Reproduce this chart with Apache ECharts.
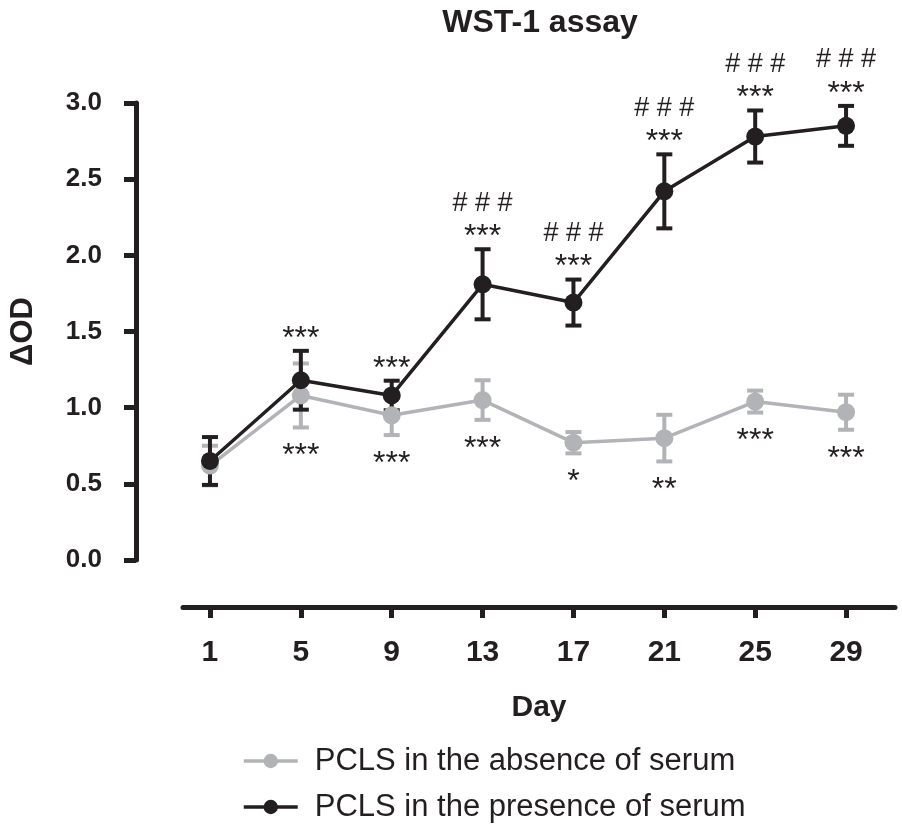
<!DOCTYPE html>
<html><head><meta charset="utf-8">
<script src="https://cdn.jsdelivr.net/npm/echarts@6/dist/echarts.min.js"></script>
<style>html,body{margin:0;padding:0;background:#fff}#c{width:902px;height:832px}</style>
</head><body><div id="c"></div>
<script>
// ---- data ----
const days = [1, 5, 9, 13, 17, 21, 25, 29];
const yTicks = [0, 0.5, 1.0, 1.5, 2.0, 2.5, 3.0];
const noSerumMean = [0.62, 1.08, 0.95, 1.05, 0.77, 0.80, 1.04, 0.97];
const noSerumSem  = [0.13, 0.21, 0.13, 0.13, 0.07, 0.153, 0.072, 0.115];
const withSerumMean = [0.65, 1.18, 1.08, 1.81, 1.69, 2.42, 2.78, 2.85];
const withSerumSem  = [0.157, 0.193, 0.097, 0.23, 0.151, 0.243, 0.171, 0.131];
const sigNoSerum   = ['', '***', '***', '***', '*', '**', '***', '***'];
const sigWithSerum = ['', '***', '***', '***', '***', '***', '***', '***'];
const hashWithSerum = ['', '', '', '###', '###', '###', '###', '###'];
const seriesNames = ['PCLS in the absence of serum', 'PCLS in the presence of serum'];

// ---- style ----
const FONT = "'Liberation Sans', Arial, Helvetica, sans-serif";
const INK = '#231f20';
const GRAY = '#b1b3b6';

function errorBar(color, means, sems) {
  return {
    type: 'custom', silent: true,
    data: days.map((d, i) => [d, means[i] - sems[i], means[i] + sems[i]]),
    encode: { x: 0, y: [1, 2] },
    renderItem(params, api) {
      const x = api.value(0);
      const lo = api.coord([x, api.value(1)]);
      const hi = api.coord([x, api.value(2)]);
      const hw = 8;
      const st = { stroke: color, lineWidth: 4 };
      return { type: 'group', children: [
        { type: 'line', shape: { x1: lo[0], y1: lo[1], x2: hi[0], y2: hi[1] }, style: st },
        { type: 'line', shape: { x1: hi[0] - hw, y1: hi[1], x2: hi[0] + hw, y2: hi[1] }, style: st },
        { type: 'line', shape: { x1: lo[0] - hw, y1: lo[1], x2: lo[0] + hw, y2: lo[1] }, style: st }
      ]};
    }
  };
}

function annot(values, labels, dy, fontSize, spaced) {
  return {
    type: 'custom', silent: true,
    data: days.map((d, i) => [d, values[i]]),
    encode: { x: 0, y: 1 },
    renderItem(params, api) {
      const t = labels[params.dataIndex];
      if (!t) return null;
      const p = api.coord([api.value(0), api.value(1)]);
      return { type: 'text', x: p[0], y: p[1] + dy, style: {
        text: spaced ? t.split('').join(' ') : t,
        fill: INK, fontSize: fontSize, fontFamily: FONT,
        align: 'center', verticalAlign: 'middle' } };
    }
  };
}

const chart = echarts.init(document.getElementById('c'), null, { renderer: 'canvas' });
chart.setOption({
  animation: false,
  backgroundColor: '#fff',
  title: {
    text: 'WST-1 assay', left: 535, top: 2, textAlign: 'center',
    textStyle: { fontSize: 32, fontWeight: 'bold', color: INK, fontFamily: FONT }
  },
  legend: {
    orient: 'vertical', left: 237, top: 740,
    itemWidth: 54, itemHeight: 18, itemGap: 14, selectedMode: false,
    data: seriesNames,
    lineStyle: { width: 3.5 },
    textStyle: { fontSize: 31, color: INK, fontFamily: FONT, padding: [0, 0, 0, 12], lineHeight: 32 }
  },
  grid: { left: 182, right: 7, top: 103, bottom: 272 },
  xAxis: {
    type: 'value', min: -0.187, max: 31.154, offset: 47, position: 'bottom',
    axisLine: { show: true, onZero: false, lineStyle: { color: INK, width: 5 } },
    axisTick: { show: true, length: 11, customValues: days, lineStyle: { color: INK, width: 5 } },
    axisLabel: { customValues: days, fontSize: 30, fontWeight: 'bold', color: INK, fontFamily: FONT, margin: 31 },
    splitLine: { show: false },
    name: 'Day', nameLocation: 'middle', nameGap: 86,
    nameTextStyle: { fontSize: 30, fontWeight: 'bold', color: INK, fontFamily: FONT }
  },
  yAxis: {
    type: 'value', min: 0, max: 3, offset: 47, position: 'left',
    axisLine: { show: true, onZero: false, lineStyle: { color: INK, width: 5 } },
    axisTick: { show: true, length: 12, customValues: yTicks, lineStyle: { color: INK, width: 5 } },
    axisLabel: { customValues: yTicks, formatter: v => v.toFixed(1), fontSize: 26, fontWeight: 'bold', color: INK, fontFamily: FONT, margin: 34 },
    splitLine: { show: false },
    name: 'ΔOD', nameLocation: 'middle', nameGap: 97, nameRotate: 90,
    nameTextStyle: { fontSize: 31, fontWeight: 'bold', color: INK, fontFamily: FONT }
  },
  series: [
    errorBar(GRAY, noSerumMean, noSerumSem),
    {
      type: 'line', name: seriesNames[0],
      data: days.map((d, i) => [d, noSerumMean[i]]),
      symbol: 'circle', symbolSize: 18, showAllSymbol: true,
      lineStyle: { color: GRAY, width: 3.5 }, itemStyle: { color: GRAY }
    },
    errorBar(INK, withSerumMean, withSerumSem),
    {
      type: 'line', name: seriesNames[1],
      data: days.map((d, i) => [d, withSerumMean[i]]),
      symbol: 'circle', symbolSize: 18, showAllSymbol: true,
      lineStyle: { color: INK, width: 3.5 }, itemStyle: { color: INK }
    },
    annot(noSerumMean.map((m, i) => m - noSerumSem[i]), sigNoSerum, 29, 32, false),
    annot(withSerumMean.map((m, i) => m + withSerumSem[i]), sigWithSerum, -12, 32, false),
    annot(withSerumMean.map((m, i) => m + withSerumSem[i]), hashWithSerum, -46, 27, true)
  ]
});
</script>
</body></html>
